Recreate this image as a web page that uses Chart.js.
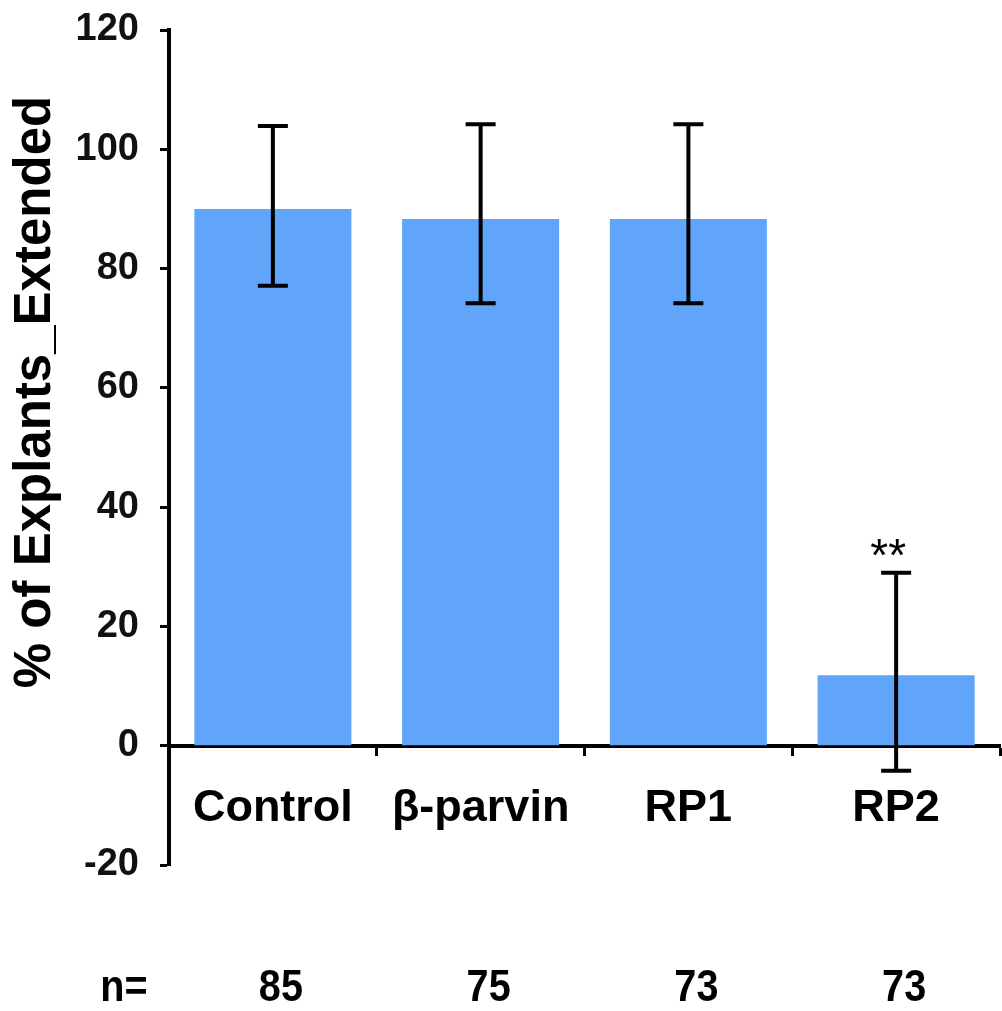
<!DOCTYPE html>
<html>
<head>
<meta charset="utf-8">
<script src="https://cdn.jsdelivr.net/npm/chart.js@4.4.1/dist/chart.umd.min.js"></script>
<style>
  body { margin: 0; background: #fff; }
  #wrap { width: 1002px; height: 1011px; }
</style>
</head>
<body>
<div id="wrap"><canvas id="chart" width="1002" height="1011"></canvas></div>
<script>
// values
const categories = ["Control", "β-parvin", "RP1", "RP2"];
const percentExtended = [90.0, 88.3, 88.3, 11.8];
const errUp = [13.9, 15.9, 15.9, 17.2];
const errDown = [12.9, 14.1, 14.1, 16.0];
const nCounts = [85, 75, 73, 73];
const yTicks = [-20, 0, 20, 40, 60, 80, 100, 120];
const starLabels = ["", "", "", "**"];

const axisTitle = "% of Explants_Extended";
const barColor = "#60a5fa";

// error bars, significance stars, y title and the n= row
const extrasPlugin = {
  id: "extras",
  afterDatasetsDraw(chart) {
    const ctx = chart.ctx;
    const x = chart.scales.x;
    const y = chart.scales.y;

    ctx.save();
    ctx.strokeStyle = "#000";
    ctx.lineWidth = 4;
    categories.forEach((cat, i) => {
      const cx = x.getPixelForValue(i);
      const top = y.getPixelForValue(percentExtended[i] + errUp[i]);
      const bottom = y.getPixelForValue(percentExtended[i] - errDown[i]);
      ctx.beginPath();
      ctx.moveTo(cx, top);
      ctx.lineTo(cx, bottom);
      ctx.moveTo(cx - 15, top);
      ctx.lineTo(cx + 15, top);
      ctx.moveTo(cx - 15, bottom);
      ctx.lineTo(cx + 15, bottom);
      ctx.stroke();

      if (starLabels[i]) {
        ctx.fillStyle = "#000";
        ctx.font = "46px 'Liberation Sans', Arial, sans-serif";
        ctx.textAlign = "center";
        ctx.textBaseline = "alphabetic";
        ctx.fillText(starLabels[i], cx - 8, top - 2);
      }
    });

    // y axis title
    ctx.fillStyle = "#000";
    ctx.font = "bold 51px 'Liberation Sans', Arial, sans-serif";
    ctx.textAlign = "center";
    ctx.textBaseline = "middle";
    ctx.translate(36, 392);
    ctx.rotate(-Math.PI / 2);
    ctx.fillText(axisTitle, 0, 0);
    ctx.restore();

    // n= row, condensed bold
    const drawNarrow = (text, cx, cy) => {
      ctx.save();
      ctx.translate(cx, cy);
      ctx.scale(0.88, 1);
      ctx.fillText(text, 0, 0);
      ctx.restore();
    };
    ctx.save();
    ctx.fillStyle = "#000";
    ctx.font = "bold 45px 'Liberation Sans', Arial, sans-serif";
    ctx.textAlign = "center";
    ctx.textBaseline = "middle";
    drawNarrow("n=", 124, 989);
    nCounts.forEach((n, i) => {
      drawNarrow(String(n), x.getPixelForValue(i) + 8, 989);
    });
    ctx.restore();
  },
};

const ctx = document.getElementById("chart").getContext("2d");
new Chart(ctx, {
  type: "bar",
  data: {
    labels: categories,
    datasets: [
      {
        label: axisTitle,
        data: percentExtended,
        backgroundColor: barColor,
        borderWidth: 0,
        barPercentage: 0.756,
        categoryPercentage: 1.0,
      },
    ],
  },
  options: {
    responsive: false,
    animation: false,
    layout: {
      padding: { top: 30, right: 2, bottom: 146, left: 0 },
    },
    plugins: {
      legend: { display: false },
      tooltip: { enabled: false },
    },
    scales: {
      x: {
        position: { y: 0 },
        offset: true,
        grid: {
          offset: true,
          drawOnChartArea: false,
          drawTicks: true,
          tickLength: 8,
          tickWidth: 3,
          tickColor: "#000",
        },
        border: { display: true, color: "#000", width: 4 },
        ticks: {
          color: "#000",
          padding: 28,
          maxRotation: 0,
          font: { family: "'Liberation Sans', Arial, sans-serif", size: 45, weight: "bold" },
        },
      },
      y: {
        min: -20,
        max: 120,
        afterFit(scale) {
          scale.width = 169;
          scale.paddingTop = 0;
          scale.paddingBottom = 0;
        },
        afterBuildTicks(scale) {
          scale.ticks = yTicks.map((v) => ({ value: v }));
        },
        grid: {
          drawOnChartArea: false,
          drawTicks: true,
          tickLength: 9,
          tickWidth: 3,
          tickColor: "#000",
        },
        border: { display: true, color: "#000", width: 4 },
        ticks: {
          color: "#111",
          padding: 21,
          font: { family: "'Liberation Sans', Arial, sans-serif", size: 38, weight: "bold" },
        },
      },
    },
  },
  plugins: [extrasPlugin],
});
</script>
</body>
</html>
